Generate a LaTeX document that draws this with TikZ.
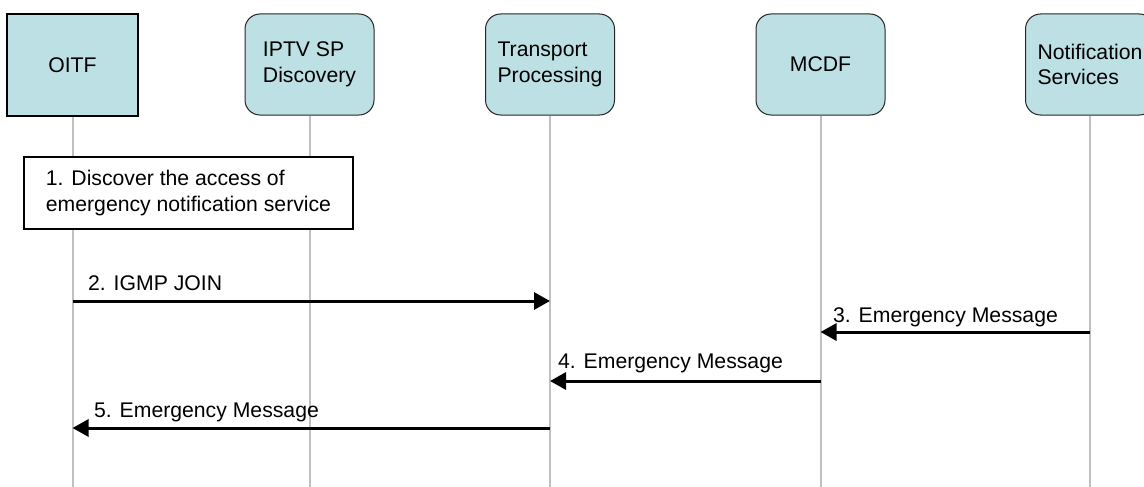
\documentclass[tikz,border=0pt]{standalone}
\usepackage{fontspec}
\setmainfont{Liberation Sans}
\usetikzlibrary{arrows.meta}
\definecolor{boxc}{RGB}{188,224,227}
\definecolor{lifec}{RGB}{192,192,192}
\begin{document}
\begin{tikzpicture}[x=1pt,y=-1pt,
  lbl/.style={font=\fontsize{21.2}{25.5}\selectfont},
  ent/.style={draw=black!85, fill=boxc, rounded corners=15pt, minimum width=129pt, minimum height=101pt, align=left, inner sep=0pt, lbl, line width=1pt},
  life/.style={draw=lifec, line width=2pt},
  msg/.style={line width=3pt, -{Triangle[length=16pt,width=17pt]}},
  mlabel/.style={lbl, anchor=base west, inner sep=0pt}]
\clip (0,0) rectangle (1144,487);
\fill[white] (0,0) rectangle (1144,487);
\coordinate (bot) at (0,487);
\coordinate (y2) at (0,301);
\coordinate (y3) at (0,332);
\coordinate (y4) at (0,381);
\coordinate (y5) at (0,428);
% entities
\node[ent, sharp corners, line width=2pt, draw=black, minimum width=131pt, minimum height=102pt] (oitf) at (72.5,65) {OITF};
\node[ent] (iptv) at (309.5,64.5) {IPTV SP\\Discovery};
\node[ent] (tp) at (550,64.5) {Transport\\Processing};
\node[ent] (mcdf) at (820.5,64.5) {MCDF};
\node[ent] (ns) at (1090,64.5) {Notification\\Services};
% lifelines
\foreach \n in {oitf,iptv,tp,mcdf,ns}{
  \draw[life] (\n.south) -- (\n.south |- bot);
}
% note
\node[draw, fill=white, line width=1.5pt, minimum width=329pt, minimum height=72pt, lbl, align=left, inner sep=0pt] (note) at (188.5,193) {1. Discover the access of\\emergency notification service};
% messages
\draw[msg] (oitf.south |- y2) -- (tp.south |- y2);
\draw[msg] (ns.south |- y3) -- (mcdf.south |- y3);
\draw[msg] (mcdf.south |- y4) -- (tp.south |- y4);
\draw[msg] (tp.south |- y5) -- (oitf.south |- y5);
\node[mlabel] (l2) at (88,290) {2. IGMP JOIN};
\node[mlabel] (l3) at (833,322) {3. Emergency Message};
\node[mlabel] (l4) at (558,368) {4. Emergency Message};
\node[mlabel] (l5) at (94,417) {5. Emergency Message};
\end{tikzpicture}
\end{document}
